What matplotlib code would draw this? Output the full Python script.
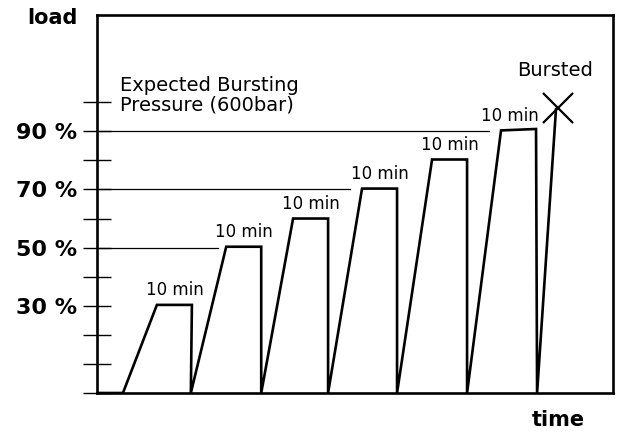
import matplotlib.pyplot as plt

# load profile (time in minutes, load in %)
time_min = [0, 7.4, 17.1, 27.1, 26.8, 36.9, 46.9, 46.9, 56.0, 66.0, 66.0,
            75.7, 85.7, 85.7, 95.7, 105.7, 105.7, 115.4, 125.4, 125.7, 131.1]
load_pct = [0, 0, 30.3, 30.3, 0, 50.3, 50.3, 0, 60, 60, 0,
            70.3, 70.3, 0, 80.3, 80.3, 0, 90.3, 90.8, 0, 97.6]

# holding plateaus (start, level) for the "10 min" notes
hold_start = [17.1, 36.9, 56.0, 75.7, 95.7, 115.4]
hold_level = [30.3, 50.3, 60, 70.3, 80.3, 90.3]
hold_len = 10

# thin reference lines
ref_level = [50, 70, 90]
ref_end = [34.6, 72.3, 112.0]

burst_t = 131.7
burst_load = 97.9

y_ticks = [0, 10, 20, 30, 40, 50, 60, 70, 80, 90, 100]
y_labels = ['', '', '', '30 %', '', '50 %', '', '70 %', '', '90 %', '']

fig = plt.figure(figsize=(6.18, 4.32), dpi=100)
ax = fig.add_axes([0.157, 0.0903, 0.835, 0.875])

ax.plot(time_min, load_pct, color='black', lw=1.9, solid_joinstyle='miter')
for lvl, end in zip(ref_level, ref_end):
    ax.plot([0, end], [lvl, lvl], color='black', lw=0.9)
ax.plot([burst_t], [burst_load], marker='x', color='black', ms=22, mew=1.6)

for i, (st, lvl) in enumerate(zip(hold_start, hold_level)):
    dx = -6 if i == len(hold_start) - 1 else 0
    ax.annotate('10 min', (st + hold_len / 2, lvl), xytext=(dx, 7),
                textcoords='offset points', ha='center', va='baseline',
                fontsize=12)

ax.text(6.6, 109, 'Expected Bursting\nPressure (600bar)', fontsize=14,
        va='top', ha='left', linespacing=1.0)
ax.text(120, 109, 'Bursted', fontsize=14, va='baseline', ha='left')

ax.set_xlim(0, 147.4)
ax.set_ylim(0, 130)
ax.set_xticks([])
ax.set_yticks(y_ticks)
ax.set_yticklabels(y_labels, fontsize=16, fontweight='bold')
ax.tick_params(axis='y', direction='inout', length=20, width=1.0, pad=4)
for sp in ax.spines.values():
    sp.set_linewidth(1.9)

fig.text(78 / 618, 1 - 8 / 432, 'load', fontsize=15, fontweight='bold',
         ha='right', va='top')
fig.text(532 / 618, 1 - 410 / 432, 'time', fontsize=15, fontweight='bold',
         ha='left', va='top')

fig.savefig('out.png', dpi=100)
